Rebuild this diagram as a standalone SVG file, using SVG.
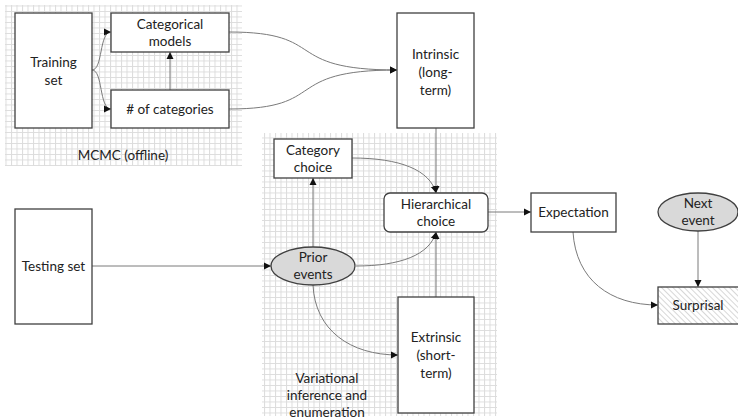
<svg xmlns="http://www.w3.org/2000/svg" width="738" height="420" viewBox="0 0 738 420">
<defs>
<pattern id="grid" width="5.5" height="5.5" patternUnits="userSpaceOnUse">
<path d="M0,0.5H5.5M0.5,0V5.5" stroke="#dcdcdc" stroke-width="1" fill="none"/>
</pattern>
<pattern id="hatch" width="4" height="4" patternUnits="userSpaceOnUse" patternTransform="rotate(-45)">
<rect width="4" height="4" fill="#fff"/>
<line x1="0" y1="0" x2="0" y2="4" stroke="#bdbdbd" stroke-width="1.2"/>
</pattern>
<marker id="arr" markerWidth="8" markerHeight="8" refX="7" refY="4" orient="auto" markerUnits="userSpaceOnUse">
<path d="M0,0.5 L7,4 L0,7.5 Z" fill="#111"/>
</marker>
</defs>
<style>
.box{fill:#fff;stroke:#404040;stroke-width:1.3}
.ell{fill:#d9d9d9;stroke:#404040;stroke-width:1.3}
.con{fill:none;stroke:#7a7a7a;stroke-width:1;marker-end:url(#arr)}
text{font-family:"Lato","Open Sans","Liberation Sans",sans-serif;font-size:13.5px;fill:#222;text-anchor:middle}
</style>
<rect width="738" height="420" fill="#fff"/>
<g id="regions">
<rect x="5" y="5" width="237" height="161" fill="url(#grid)"/>
<rect x="262" y="133" width="235" height="283" fill="url(#grid)"/>
<text x="123" y="160">MCMC (offline)</text>
<text x="327" y="383">Variational</text>
<text x="327" y="400">inference and</text>
<text x="327" y="417">enumeration</text>
</g>
<g id="connectors">
<path class="con" d="M92,70 C103,70 99,32 111,32"/>
<path class="con" d="M92,70 C103,70 99,109 111,109"/>
<path class="con" d="M170,90 V52"/>
<path class="con" d="M229,32 C330,32 280,70 397,70"/>
<path class="con" d="M229,109 C330,109 280,70 397,70"/>
<path class="con" d="M436,128 V193"/>
<path class="con" d="M352,158 C400,158 430,170 436,193"/>
<path class="con" d="M313,248 V178"/>
<path class="con" d="M356,266 C400,266 430,255 436,232"/>
<path class="con" d="M436,297 V232"/>
<path class="con" d="M313,285 C315,330 350,355 398,355"/>
<path class="con" d="M92,266 H271"/>
<path class="con" d="M488,212 H531"/>
<path class="con" d="M573,232 C576,280 610,305 658,305"/>
<path class="con" d="M698,231 V287"/>
</g>
<g id="training-set">
<rect class="box" x="15" y="13" width="77" height="115"/>
<text x="53.5" y="67">Training</text>
<text x="53.5" y="85">set</text>
</g>
<g id="categorical-models">
<rect class="box" x="111" y="13" width="118" height="39"/>
<text x="170" y="29">Categorical</text>
<text x="170" y="46">models</text>
</g>
<g id="num-categories">
<rect class="box" x="111" y="90" width="118" height="38"/>
<text x="170" y="114">&#35; of categories</text>
</g>
<g id="intrinsic">
<rect class="box" x="397" y="13" width="77" height="115"/>
<text x="435.5" y="59">Intrinsic</text>
<text x="435.5" y="77">(long-</text>
<text x="435.5" y="95">term)</text>
</g>
<g id="category-choice">
<rect class="box" x="274" y="139" width="78" height="39"/>
<text x="313" y="155">Category</text>
<text x="313" y="172">choice</text>
</g>
<g id="hierarchical-choice">
<rect class="box" x="384" y="193" width="104" height="39" rx="6"/>
<text x="436" y="209">Hierarchical</text>
<text x="436" y="226">choice</text>
</g>
<g id="prior-events">
<ellipse class="ell" cx="313" cy="266" rx="42" ry="19"/>
<text x="313" y="262">Prior</text>
<text x="313" y="279">events</text>
</g>
<g id="extrinsic">
<rect class="box" x="398" y="297" width="76" height="116"/>
<text x="436" y="342">Extrinsic</text>
<text x="436" y="360">(short-</text>
<text x="436" y="378">term)</text>
</g>
<g id="testing-set">
<rect class="box" x="15" y="209" width="77" height="115"/>
<text x="53.5" y="271">Testing set</text>
</g>
<g id="expectation">
<rect class="box" x="531" y="193" width="85" height="39"/>
<text x="573.5" y="217">Expectation</text>
</g>
<g id="next-event">
<ellipse class="ell" cx="698" cy="212" rx="40" ry="19"/>
<text x="698" y="208">Next</text>
<text x="698" y="225">event</text>
</g>
<g id="surprisal">
<rect x="658" y="287" width="90" height="37" fill="url(#hatch)" stroke="#404040" stroke-width="1.3"/>
<text x="698" y="310">Surprisal</text>
</g>
</svg>
